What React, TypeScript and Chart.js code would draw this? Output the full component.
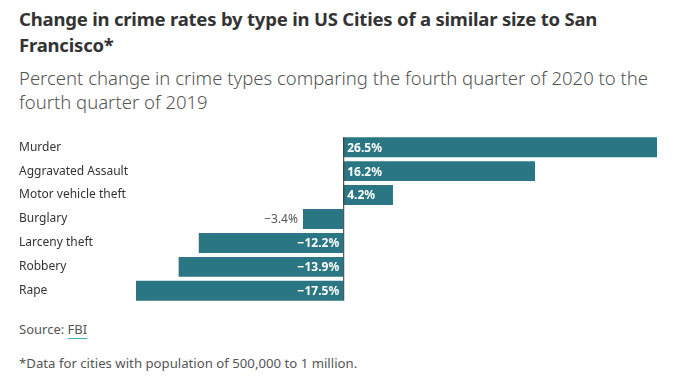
import React, { useEffect, useRef } from "react";
import { Chart, registerables } from "chart.js";

Chart.register(...registerables);

const categories = [
  "Murder",
  "Aggravated Assault",
  "Motor vehicle theft",
  "Burglary",
  "Larceny theft",
  "Robbery",
  "Rape",
];
const values = [26.5, 16.2, 4.2, -3.4, -12.2, -13.9, -17.5];
const valueLabels = ["26.5%", "16.2%", "4.2%", "\u22123.4%", "\u221212.2%", "\u221213.9%", "\u221217.5%"];

const BAR = "#2a7783";
const FONT = "'Noto Sans', 'Open Sans', sans-serif";

const labelPlugin = {
  id: "valueLabels",
  afterDatasetsDraw(chart: any) {
    const { ctx, scales } = chart;
    const x0 = scales.x.getPixelForValue(0);
    ctx.save();
    ctx.strokeStyle = "#333";
    ctx.lineWidth = 1;
    ctx.beginPath();
    ctx.moveTo(x0 + 0.5, chart.chartArea.top + 2);
    ctx.lineTo(x0 + 0.5, chart.chartArea.bottom - 2);
    ctx.stroke();
    const meta = chart.getDatasetMeta(0);
    meta.data.forEach((bar: any, i: number) => {
      const v = values[i];
      const text = valueLabels[i];
      const w = Math.abs(bar.x - bar.base);
      ctx.textBaseline = "middle";
      if (v >= 0) {
        ctx.font = `bold 12px ${FONT}`;
        ctx.fillStyle = "#fff";
        ctx.textAlign = "left";
        ctx.fillText(text, x0 + 4, bar.y + 1);
      } else {
        ctx.font = `bold 12px ${FONT}`;
        const tw = ctx.measureText(text).width;
        if (tw + 8 < w) {
          ctx.fillStyle = "#fff";
          ctx.textAlign = "right";
          ctx.fillText(text, x0 - 4, bar.y + 1);
        } else {
          ctx.font = `12px ${FONT}`;
          ctx.fillStyle = "#555";
          ctx.textAlign = "right";
          ctx.fillText(text, bar.x - 5, bar.y + 1);
        }
      }
    });
    ctx.restore();
  },
};

export default function App() {
  const ref = useRef<HTMLCanvasElement>(null);
  useEffect(() => {
    if (!ref.current) return;
    const chart = new Chart(ref.current, {
      type: "bar",
      data: {
        labels: categories,
        datasets: [
          {
            data: values,
            backgroundColor: BAR,
            borderWidth: 0,
            barPercentage: 20 / 24,
            categoryPercentage: 1,
          },
        ],
      },
      plugins: [labelPlugin],
      options: {
        indexAxis: "y",
        animation: false,
        responsive: false,
        maintainAspectRatio: false,
        layout: { padding: { left: 19, right: 17, top: 0, bottom: 0 } },
        plugins: {
          legend: { display: false },
          tooltip: { enabled: false },
          title: { display: false },
        },
        scales: {
          x: {
            display: false,
            min: -17.5,
            max: 26.5,
          },
          y: {
            afterFit(scale: any) {
              scale.width = 117;
            },
            grid: { display: false },
            border: { display: false },
            ticks: {
              crossAlign: "far",
              color: "#333",
              font: { family: FONT, size: 12 },
              padding: 0,
            },
          },
        },
      },
    });
    return () => chart.destroy();
  }, []);

  return (
    <div
      style={{
        position: "fixed",
        left: 0,
        top: 0,
        width: 674,
        height: 381,
        background: "#fff",
        fontFamily: FONT,
      }}
    >
      <div
        style={{
          position: "absolute",
          left: 19,
          top: 6,
          fontSize: 18.5,
          fontWeight: 700,
          lineHeight: "26px",
          color: "#333",
          whiteSpace: "nowrap",
          letterSpacing: -0.2,
        }}
      >
        Change in crime rates by type in US Cities of a similar size to San
        <br />
        Francisco*
      </div>
      <div
        style={{
          position: "absolute",
          left: 19,
          top: 66,
          fontSize: 18.5,
          fontWeight: 300,
          lineHeight: "24px",
          color: "#555",
          whiteSpace: "nowrap",
        }}
      >
        Percent change in crime types comparing the fourth quarter of 2020 to the
        <br />
        fourth quarter of 2019
      </div>
      <canvas
        ref={ref}
        width={674}
        height={182}
        style={{ position: "absolute", left: 0, top: 128, width: 674, height: 182 }}
      />
      <div
        style={{
          position: "absolute",
          left: 19,
          top: 320,
          fontSize: 13,
          color: "#555",
          whiteSpace: "nowrap",
        }}
      >
        Source:{" "}
        <span style={{ borderBottom: "1.5px solid #3bb6b8" }}>FBI</span>
      </div>
      <div
        style={{
          position: "absolute",
          left: 19,
          top: 354,
          fontSize: 13.2,
          color: "#555",
          whiteSpace: "nowrap",
        }}
      >
        *Data for cities with population of 500,000 to 1 million.
      </div>
    </div>
  );
}
